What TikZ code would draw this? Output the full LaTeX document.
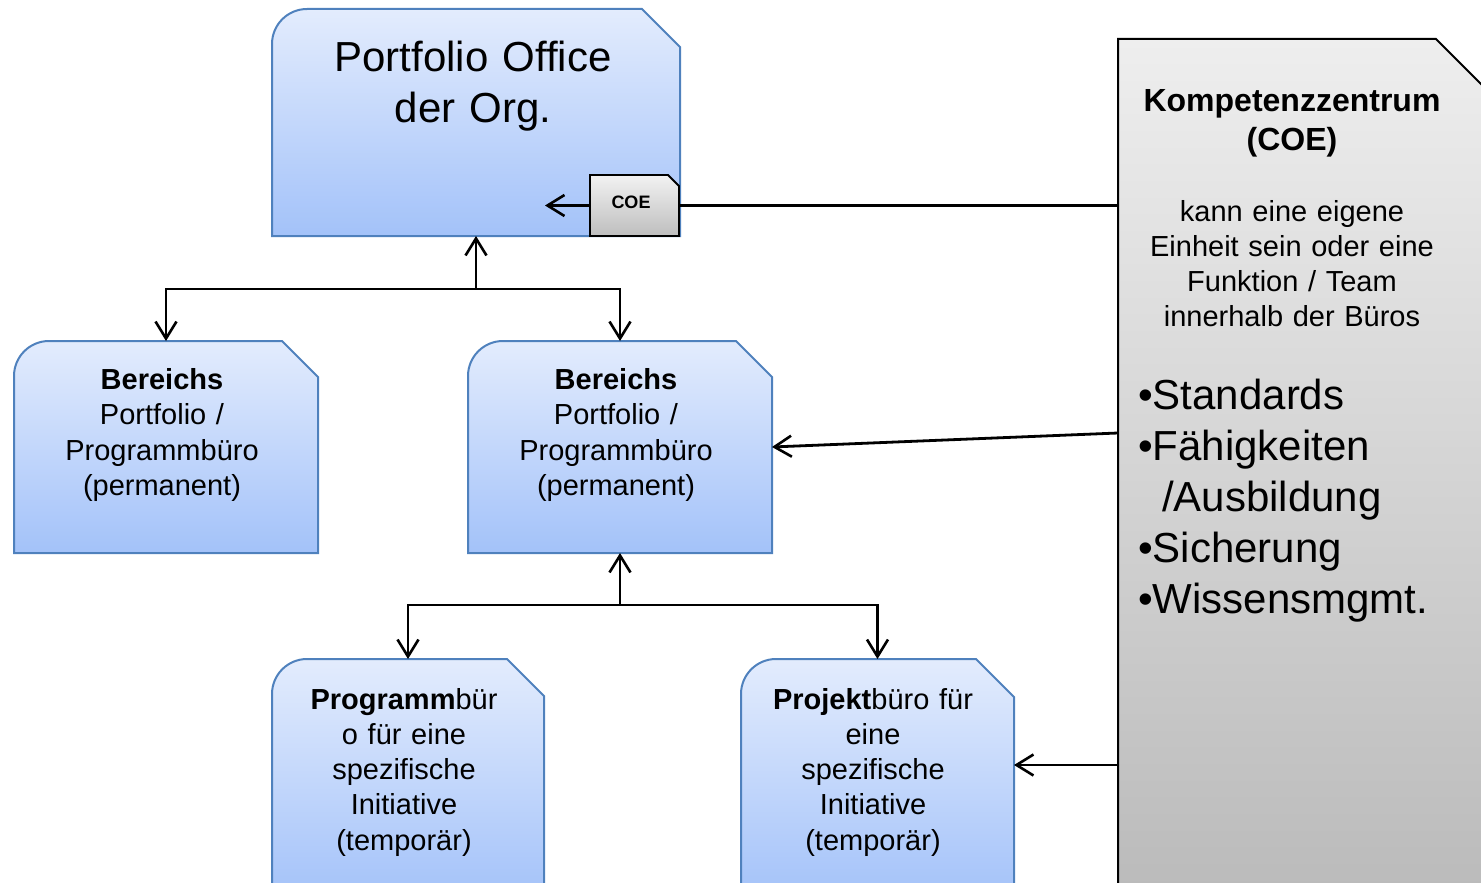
\documentclass[tikz,border=0pt]{standalone}
\usepackage{fontspec}
\setmainfont{Liberation Sans}
\usetikzlibrary{arrows.meta,calc}

\definecolor{boxtop}{HTML}{E3ECFD}
\definecolor{boxbot}{HTML}{A3C2F9}
\definecolor{boxline}{HTML}{4F81BD}
\definecolor{greytop}{HTML}{EEEEEE}
\definecolor{greybot}{HTML}{BABABA}
\definecolor{coetop}{HTML}{F2F2F2}
\definecolor{coebot}{HTML}{BEBEBE}

\tikzset{
  ofzone/.style={rectangle, draw=none, inner sep=0pt, outer sep=0pt},
  officefill/.style={top color=boxtop, bottom color=boxbot, draw=boxline, line width=2pt},
  greyfill/.style={top color=greytop, bottom color=greybot, draw=black, line width=2pt},
  coefill/.style={top color=coetop, bottom color=coebot, draw=black, line width=1.8pt},
  conn/.style={line width=2.8pt, black},
  connarrow/.style={conn, -{Straight Barb[length=17pt,width=21pt,line width=2.6pt]}},
  bodytext/.style={inner sep=0pt, text width=300pt, align=center, font=\fontsize{29}{35.3}\selectfont},
  titletext/.style={inner sep=0pt, text width=380pt, align=center, font=\fontsize{42}{51.7}\selectfont},
}

% outline with a rounded top-left corner (radius #2) and a cut top-right corner (size #3)
\newcommand\officeoutline[4]{%
  \path[#4] (#1.south west) -- ($(#1.north west)+(0,#2)$)
    .. controls ($(#1.north west)+(0,0.448*#2)$) and ($(#1.north west)+(0.448*#2,0)$) ..
    ($(#1.north west)+(#2,0)$)
    -- ($(#1.north east)+(-#3,0)$) -- ($(#1.north east)+(0,#3)$)
    -- (#1.south east) -- cycle;}
% outline with square corners and a cut top-right corner (size #2)
\newcommand\snipoutline[3]{%
  \path[#3] (#1.south west) -- (#1.north west)
    -- ($(#1.north east)+(-#2,0)$) -- ($(#1.north east)+(0,#2)$)
    -- (#1.south east) -- cycle;}

\begin{document}
\begin{tikzpicture}[x=1pt,y=-1pt]
\useasboundingbox (0,0) rectangle (1481,883);
\clip (0,0) rectangle (1481,883);

% box areas
\node[ofzone, minimum width=408pt, minimum height=227pt] (pof) at (476,122.5) {};
\node[ofzone, minimum width=304pt, minimum height=212pt] (bl)  at (166,447) {};
\node[ofzone, minimum width=304pt, minimum height=212pt] (bm)  at (620,447) {};
\node[ofzone, minimum width=272pt, minimum height=241pt] (pg)  at (408,779.5) {};
\node[ofzone, minimum width=273pt, minimum height=241pt] (pj)  at (877.5,779.5) {};
\node[ofzone, minimum width=382pt, minimum height=866pt] (kc)  at (1309,472) {};
\node[ofzone, minimum width=89pt,  minimum height=61pt]  (coe) at (634.5,205.5) {};

% outlines
\officeoutline{pof}{35}{38}{officefill}
\officeoutline{bl}{35}{36}{officefill}
\officeoutline{bm}{35}{36}{officefill}
\officeoutline{pg}{35}{37}{officefill}
\officeoutline{pj}{35}{38}{officefill}
\snipoutline{kc}{64}{greyfill}
\snipoutline{coe}{11}{coefill}

% texts
\node[titletext, anchor=base] (poftxt) at (473,71) {Portfolio Office\\der Org.};
\node[bodytext, anchor=base] (bltxt) at (162,389.5) {\textbf{Bereichs}\\Portfolio /\\Programmbüro\\(permanent)};
\node[bodytext, anchor=base] (bmtxt) at (616,389.5) {\textbf{Bereichs}\\Portfolio /\\Programmbüro\\(permanent)};
\node[bodytext, anchor=base] (pgtxt) at (404,709) {\textbf{Programm}bür\\o für eine\\spezifische\\Initiative\\(temporär)};
\node[bodytext, anchor=base] (pjtxt) at (873,709) {\textbf{Projekt}büro für\\eine\\spezifische\\Initiative\\(temporär)};
\node[inner sep=0pt, anchor=base, font=\fontsize{18}{20}\selectfont\bfseries] (coetxt) at (631,208) {COE};
\node[inner sep=0pt, anchor=base, text width=340pt, align=center, font=\fontsize{32}{39.3}\selectfont\bfseries] (kctitle) at (1292,111) {Kompetenzzentrum\\(COE)};
\node[bodytext, anchor=base] (kcdesc) at (1292,221) {kann eine eigene\\Einheit sein oder eine\\Funktion / Team\\innerhalb der Büros};
\node[inner sep=0pt, anchor=base west, text width=340pt, align=left, font=\fontsize{42}{51}\selectfont] (kclist) at (1138,409)
  {•Standards\\•Fähigkeiten\\\hspace*{24pt}/Ausbildung\\•Sicherung\\•Wissensmgmt.};

% connectors
\coordinate (j1) at ($(pof.south)+(0,53)$);
\draw[connarrow] (j1) -- (pof.south);
\draw[connarrow] (j1) -| (bl.north);
\draw[connarrow] (j1) -| (bm.north);

\coordinate (j2) at ($(bm.south)+(0,52)$);
\draw[connarrow] (j2) -- (bm.south);
\draw[connarrow] (j2) -| (pg.north);
\draw[connarrow] (j2) -| (pj.north);

\coordinate (coetip) at ($(coe.west)+(-45,0)$);
\draw[connarrow] (coe.west) -- (coetip);
\draw[conn] (coe.east) -- (coe.east -| kc.west);

\coordinate (kcport1) at (1118,433);
\draw[connarrow] (kcport1) -- (bm.east);
\coordinate (kcport2) at (1118,765);
\draw[connarrow] (kcport2) -- (kcport2 -| pj.east);
\end{tikzpicture}
\end{document}
